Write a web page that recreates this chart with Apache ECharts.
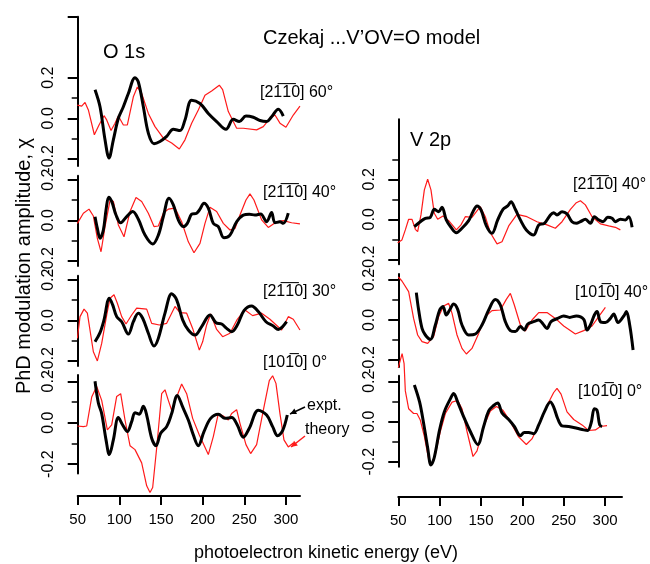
<!DOCTYPE html>
<html>
<head>
<meta charset="utf-8">
<script src="https://cdn.jsdelivr.net/npm/echarts@6/dist/echarts.min.js"></script>
<style>
html,body{margin:0;padding:0;background:#fff;}
#chart{width:650px;height:564px;}
</style>
</head>
<body>
<div id="chart"></div>
<script>
// ---------------- data (photoelectron kinetic energy eV, chi) ----------------
const xTickValues = [50, 100, 150, 200, 250, 300];
const yTickLabelValues = [-0.2, 0, 0.2];

const o1s60Expt = [[70.8,0.141],[76.8,0.057],[82.8,-0.106],[87.6,-0.195],[92.8,-0.106],[98.8,0.0],[104.8,0.057],[110.8,0.122],[118.8,0.2],[122.8,0.179],[128.8,0.057],[134.8,-0.073],[141.6,-0.125],[148.8,-0.114],[156.8,-0.089],[164.8,-0.054],[172.8,-0.06],[178.8,-0.008],[186.8,0.089],[196.8,0.073],[206.8,0.024],[216.8,-0.016],[228,-0.054],[236.8,-0.005],[244,-0.016],[252,0.011],[260.8,0.005],[268.8,-0.011],[276.8,-0.016],[282.8,0.008],[290.8,0.044],[296.8,0.011]];
const o1s60Theory = [[49.6,0.065],[54.8,0.06],[58.8,0.078],[62.8,0.041],[70,-0.081],[75.6,-0.033],[81.6,0.013],[84.8,-0.008],[90,-0.06],[94.8,-0.024],[98.8,0.011],[104.8,-0.033],[109.6,-0.033],[116.8,0.106],[121.6,0.154],[126.8,0.122],[134.8,0.024],[142.8,-0.041],[152.8,-0.098],[162.8,-0.122],[172,-0.151],[178.8,-0.106],[186.8,-0.024],[194.8,0.041],[202.8,0.114],[210.8,0.135],[220,0.163],[224,0.141],[230.8,0.033],[240.8,-0.049],[248.8,-0.049],[264.8,-0.057],[272.8,-0.041],[280.8,0.0],[286.8,0.016],[292.8,-0.024],[300,-0.044],[308.8,0.016],[316.8,0.06]];

const o1s40Expt = [[70.8,0.018],[73.6,-0.04],[76.8,-0.089],[80.8,-0.048],[84,0.051],[87.2,0.114],[90.8,0.093],[96,0.026],[101.6,-0.012],[108.8,0.018],[116,0.043],[122.8,0.005],[130.8,-0.073],[140,-0.117],[146.8,-0.073],[152.8,0.018],[159.6,0.109],[164.8,0.076],[170.8,0.002],[176.8,-0.031],[181.6,-0.015],[186.8,0.03],[192.8,0.035],[196.8,0.055],[201.6,0.084],[206.8,0.06],[212.8,-0.015],[218.8,-0.031],[225.6,-0.086],[232.8,-0.073],[240.8,-0.007],[248.8,0.026],[256,0.03],[262.8,0.026],[269.6,0.031],[276.8,-0.007],[282.8,0.038],[286.8,-0.012],[292.8,-0.007],[296.8,-0.015],[302.8,0.035]];
const o1s40Theory = [[49.6,-0.015],[56.8,0.035],[63.6,0.055],[68.8,0.021],[73.6,-0.089],[78,-0.155],[82.8,-0.031],[88.8,0.098],[92.8,0.093],[98.8,-0.023],[105.6,-0.081],[112.8,0.043],[120,0.112],[126.8,0.093],[134.8,0.035],[141.6,-0.031],[146.8,-0.028],[152.8,0.035],[158.8,0.055],[166.8,0.06],[174.8,-0.007],[182.8,-0.106],[189.6,-0.16],[196.8,-0.114],[202.8,-0.015],[208.8,0.064],[216.8,0.043],[224.8,-0.015],[232.8,-0.048],[238.8,-0.04],[244.8,0.026],[252,0.1],[256.8,0.13],[261.6,0.1],[270.8,0.002],[278.8,-0.035],[288.8,-0.007],[296.8,-0.002],[306.8,-0.012],[316.8,-0.018]];

const o1s30Expt = [[70.8,-0.106],[76.8,-0.061],[81.6,0.002],[88,0.109],[92,0.076],[96.8,0.018],[102.8,-0.007],[110.8,-0.068],[116.8,-0.007],[122.8,0.035],[128,0.01],[134.8,-0.064],[141.6,-0.127],[146.8,-0.089],[154.8,0.035],[162.8,0.131],[168.8,0.101],[176,0.002],[182.8,-0.048],[190.8,-0.073],[198.8,-0.031],[208.8,0.026],[216,-0.012],[222.8,-0.018],[228.8,-0.04],[234.8,-0.056],[241.6,-0.023],[249.6,0.048],[258.8,0.071],[266.8,0.043],[276,-0.007],[284.8,-0.028],[290.8,-0.045],[296,-0.031],[300.8,-0.007]];
const o1s30Theory = [[49.6,-0.089],[52.8,0.018],[57.6,0.055],[61.6,0.035],[68.8,-0.155],[73.6,-0.2],[78.8,-0.114],[84.8,0.026],[88.8,0.109],[93.6,0.126],[97.6,0.084],[102.8,0.018],[108,-0.018],[114.8,0.026],[120.8,0.06],[132.8,0.055],[138.8,-0.015],[148,-0.023],[156.8,-0.015],[162.8,0.035],[166.8,0.068],[172.8,0.038],[180.8,0.035],[188,-0.04],[196,-0.147],[200,-0.106],[204.8,-0.023],[209.6,0.031],[216.8,-0.045],[224,-0.081],[232.8,-0.064],[241.6,0.005],[250.8,0.051],[260,0.023],[270.8,0.035],[280.8,0.005],[294.8,-0.048],[302.8,0.018],[308.8,0.005],[316.8,-0.048]];

const o1s0Expt = [[70.8,0.2],[74.8,0.095],[78.8,0.044],[84,-0.083],[88,-0.154],[92.8,-0.083],[98.8,0.025],[104,-0.011],[109.6,-0.043],[114.8,0.005],[118.8,0.048],[124,0.041],[128.8,0.079],[132.8,0.037],[138.8,-0.075],[144,-0.111],[149.6,-0.051],[156.8,-0.019],[162.8,0.044],[169.6,0.132],[176,0.076],[182.8,0.013],[188.8,-0.059],[194.8,-0.111],[201.6,-0.043],[209.6,0.021],[218.8,0.041],[226.8,0.021],[234.8,0.025],[241.6,-0.011],[248.8,-0.07],[256,-0.027],[266.8,0.06],[276.8,0.037],[284,-0.019],[290,-0.063],[296,-0.038],[301.6,0.037]];
const o1s0Theory = [[49.6,-0.016],[56.8,-0.019],[60.8,-0.016],[66.8,0.124],[72.8,0.175],[78.8,0.108],[85.6,-0.035],[90.8,-0.011],[96.8,0.127],[101.6,0.14],[106.8,0.013],[112.8,-0.111],[118.8,-0.13],[126.8,-0.194],[132.8,-0.305],[136.8,-0.337],[140,-0.313],[144.8,-0.122],[150.8,0.14],[154.8,0.159],[158.8,0.108],[162.8,0.06],[168.8,0.124],[174.8,0.187],[180.8,0.14],[188,0.021],[196,-0.059],[206.8,-0.154],[212.8,-0.067],[218.8,0.044],[224.8,0.032],[230.8,0.013],[234.8,0.044],[240.8,0.063],[244.8,-0.003],[252,-0.106],[257.6,-0.149],[264.8,-0.106],[272.8,0.06],[280,0.203],[284,0.227],[288,0.19],[292.8,0.044],[297.6,-0.083],[302.8,-0.117],[308.8,-0.098]];

const v2p40aExpt = [[69.4,-0.037],[76.6,-0.012],[82.7,0.005],[88.7,0.01],[93.5,0.05],[98.8,0.038],[102.8,0.06],[108,-0.003],[113.7,-0.04],[120.2,-0.067],[127,-0.045],[135.1,-0.007],[140.3,0.038],[145.2,0.067],[150,0.047],[156.5,-0.033],[163.3,-0.07],[170.2,-0.003],[176.6,0.05],[182.3,0.067],[186.3,0.088],[191.5,0.05],[197.6,-0.003],[204.8,-0.053],[213.7,-0.078],[219.8,-0.028],[226.6,-0.02],[233.9,0.022],[237.9,0.033],[241.9,0.022],[248,0.038],[254,0.027],[260,-0.012],[265.3,-0.02],[270.2,-0.012],[276.2,0.0],[282.3,-0.02],[287.1,0.013],[292.3,-0.003],[297.6,-0.012],[303.2,0.01],[308.5,0.005],[312.5,-0.012],[318.5,0.0],[324.6,-0.003],[328.6,0.013],[332.7,-0.04]];
const v2p40aTheory = [[49.2,-0.117],[54.4,-0.103],[58.5,-0.053],[62.5,0.0],[66.5,0.0],[70.6,-0.05],[73.4,-0.062],[77.4,0.022],[81.5,0.147],[85.5,0.2],[89.5,0.147],[93.5,0.03],[97.6,0.0],[104,0.017],[110.9,-0.007],[120.2,-0.053],[125.8,-0.028],[131,0.013],[139.1,0.01],[144.4,0.038],[149.2,0.063],[155.2,0.013],[161.3,-0.067],[169.4,-0.123],[175.4,-0.112],[183.5,-0.033],[193.5,0.025],[205.6,0.013],[217.7,-0.012],[229.8,-0.028],[239.9,-0.045],[248,-0.012],[258.1,0.05],[265.3,0.083],[270.2,0.093],[276.2,0.072],[284.3,0.013],[294.4,-0.023],[304.4,-0.033],[312.5,-0.04],[318.5,-0.053]];

const v2p40bExpt = [[71.8,0.137],[74.6,0.05],[78.7,-0.042],[82.7,-0.075],[88.7,-0.097],[94.8,-0.025],[100,0.05],[104,0.067],[108,0.025],[112.1,0.05],[116.9,0.08],[121.8,0.053],[127,-0.025],[135.1,-0.075],[143.2,-0.07],[151.2,-0.025],[159.3,0.05],[167.3,0.103],[173.4,0.075],[179.4,-0.008],[185.5,-0.053],[191.5,-0.058],[197.6,-0.033],[202.4,-0.05],[206.5,-0.02],[213.7,-0.008],[219.8,0.0],[225,-0.02],[229.8,-0.042],[234.7,-0.008],[242.7,0.008],[250,0.02],[257.3,0.013],[265.3,0.02],[274.2,0.003],[278.2,-0.05],[282.3,-0.025],[287.1,0.025],[290.3,0.042],[294.4,-0.008],[300.4,-0.013],[306.5,0.008],[310.5,0.03],[315.7,-0.013],[322.6,0.02],[325.8,0.042],[329.8,-0.025],[333.9,-0.15]];
const v2p40bTheory = [[50,0.215],[54.4,0.195],[62.5,0.142],[68.5,0.008],[73.4,-0.075],[78.7,-0.108],[85.5,-0.117],[92.7,-0.083],[98.8,0.017],[104.8,0.07],[110.9,0.083],[115,0.033],[121,-0.075],[127,-0.142],[132.3,-0.17],[139.1,-0.142],[147.2,-0.067],[155.2,0.017],[163.3,0.047],[173.4,0.05],[180.6,0.103],[185.5,0.133],[190.3,0.075],[197.6,-0.025],[203.6,-0.055],[211.7,0.0],[219.8,0.037],[229.8,0.037],[239.9,0.008],[250,-0.03],[264.1,-0.07],[274.2,-0.053],[284.3,-0.03],[292.3,0.017],[300.4,0.063]];

const v2p0Expt = [[69.4,0.184],[75.8,0.098],[80.6,-0.008],[85.5,-0.13],[89.5,-0.216],[93.5,-0.179],[99.9,-0.041],[105.6,0.049],[112.9,0.114],[116.9,0.141],[121.8,0.098],[128.2,0.033],[137.1,-0.049],[146,-0.114],[153.2,-0.024],[159.3,0.054],[165.3,0.081],[170.2,0.093],[175.4,0.044],[183.5,0.011],[190.3,-0.024],[197.6,-0.07],[202.4,-0.054],[207.7,-0.054],[213.7,-0.06],[219.8,-0.016],[226.6,0.049],[233.9,0.098],[237.9,0.073],[242.7,0.016],[248,-0.021],[256,-0.024],[266.1,-0.033],[274.2,-0.041],[279,-0.044],[283.1,-0.008],[287.1,0.065],[290.3,0.057],[293.5,-0.016],[296.4,-0.024]];
const v2p0Theory = [[50,0.27],[54.6,0.34],[57,0.29],[58.5,0.154],[62.5,0.065],[68.5,0.041],[72.5,0.041],[76.6,0.008],[81.5,-0.073],[86.7,-0.187],[89.9,-0.216],[94.8,-0.163],[100.8,-0.049],[106.9,0.041],[115,0.098],[121.8,0.106],[127,0.065],[133.1,-0.049],[140.3,-0.174],[145.2,-0.146],[153.2,-0.024],[161.3,0.054],[168.5,0.076],[176.6,0.057],[185.5,0.0],[195.5,-0.076],[204.8,-0.114],[211.6,-0.086],[221.8,0.0],[229.8,0.081],[237.9,0.146],[241.9,0.167],[246.8,0.138],[254,0.049],[262.1,0.011],[272.2,-0.016],[280.2,-0.044],[288.3,-0.041],[294.4,-0.024],[302.4,-0.02]];

const panelLabels = ['[21\u03051\u03050] 60°','[21\u03051\u03050] 40°','[21\u03051\u03050] 30°','[101\u03050] 0°','[21\u03051\u03050] 40°','[101\u03050] 40°','[101\u03050] 0°'];
const panelExpt = [o1s60Expt, o1s40Expt, o1s30Expt, o1s0Expt, v2p40aExpt, v2p40bExpt, v2p0Expt];
const panelTheory = [o1s60Theory, o1s40Theory, o1s30Theory, o1s0Theory, v2p40aTheory, v2p40bTheory, v2p0Theory];

// ---------------- layout ----------------
const FONT = '"Liberation Sans", Arial, sans-serif';
const L = {x0: 77.7, pxPerEv: 0.833, xMin: 50, xMax: 320};
const R = {x0: 398.3, pxPerEv: 0.827, xMin: 50, xMax: 340};
const panels = [
  {side: L, yMin: -0.235, yMax: 0.5,  zero: 118.3, k: 203, majors: [-0.2,0,0.2,0.5], minors: [-0.1,0.1], lab: [260, 93]},
  {side: L, yMin: -0.225, yMax: 0.22, zero: 220.3, k: 203, majors: [-0.2,0,0.2], minors: [-0.1,0.1], lab: [263, 193]},
  {side: L, yMin: -0.225, yMax: 0.22, zero: 320.3, k: 203, majors: [-0.2,0,0.2], minors: [-0.1,0.1], lab: [263, 292]},
  {side: L, yMin: -0.245, yMax: 0.23, zero: 422.7, k: 207, majors: [-0.2,0,0.2], minors: [-0.1,0.1], lab: [263, 363]},
  {side: R, yMin: -0.225, yMax: 0.5,  zero: 219.3, k: 200, majors: [-0.2,0,0.2], minors: [-0.1,0.1,0.3], lab: [573, 185]},
  {side: R, yMin: -0.235, yMax: 0.23, zero: 320.0, k: 200, majors: [-0.2,0,0.2], minors: [-0.1,0.1], lab: [575, 293]},
  {side: R, yMin: -0.225, yMax: 0.23, zero: 421.7, k: 200, majors: [-0.2,0,0.2], minors: [-0.1,0.1], lab: [578, 392]}
];

const grid = [], xAxis = [], yAxis = [], series = [], graphic = [];

panels.forEach((p, i) => {
  grid.push({
    left: p.side.x0,
    top: p.zero - p.yMax * p.k,
    width: (p.side.xMax - p.side.xMin) * p.side.pxPerEv,
    height: (p.yMax - p.yMin) * p.k
  });
  xAxis.push({gridIndex: i, type: 'value', min: p.side.xMin, max: p.side.xMax, show: false});
  yAxis.push({
    gridIndex: i, type: 'value', min: p.yMin, max: p.yMax, position: 'left',
    axisLine: {show: true, onZero: false, lineStyle: {color: '#000', width: 2}},
    axisTick: {show: true, length: 10, customValues: p.majors, lineStyle: {color: '#000', width: 2}},
    axisLabel: {show: true, customValues: yTickLabelValues, rotate: 90, margin: 21,
      color: '#000', fontSize: 16, fontFamily: FONT,
      formatter: v => (Math.abs(v) < 1e-9 ? '0.0' : v.toFixed(1))},
    splitLine: {show: false}
  });
  yAxis.push({
    gridIndex: i, type: 'value', min: p.yMin, max: p.yMax, position: 'left',
    axisLine: {show: false},
    axisTick: {show: true, length: 6, customValues: p.minors, lineStyle: {color: '#000', width: 1.5}},
    axisLabel: {show: false}, splitLine: {show: false}
  });
  series.push({
    type: 'line', xAxisIndex: i, yAxisIndex: 2 * i, data: panelTheory[i],
    showSymbol: false, clip: false, smooth: false,
    lineStyle: {color: '#ff1a1a', width: 1.2}, z: 2
  });
  series.push({
    type: 'line', xAxisIndex: i, yAxisIndex: 2 * i, data: panelExpt[i],
    showSymbol: false, clip: false, smooth: 0.35,
    lineStyle: {color: '#000', width: 3}, z: 3
  });
  graphic.push({type: 'text', x: p.lab[0], y: p.lab[1],
    style: {text: panelLabels[i], fill: '#000', font: '16px ' + FONT, textVerticalAlign: 'middle', textAlign: 'left'}});
});

// bottom axes (own grids)
[{side: L, y: 496, xMax: 316.9}, {side: R, y: 497, xMax: 320.5}].forEach((b, j) => {
  const gi = panels.length + j;
  grid.push({left: b.side.x0, top: b.y - 1, width: (b.xMax - 50) * b.side.pxPerEv, height: 1});
  xAxis.push({
    gridIndex: gi, type: 'value', min: 50, max: b.xMax, position: 'bottom',
    axisLine: {show: true, onZero: false, lineStyle: {color: '#000', width: 2}},
    axisTick: {show: true, length: 9, customValues: xTickValues, lineStyle: {color: '#000', width: 2}},
    axisLabel: {show: true, customValues: xTickValues, margin: 16, color: '#000', fontSize: 15, fontFamily: FONT},
    splitLine: {show: false}
  });
  yAxis.push({gridIndex: gi, type: 'value', min: 0, max: 1, show: false});
});

// texts
const txt = (t, x, y, size) => ({type: 'text', x, y,
  style: {text: t, fill: '#000', font: size + 'px ' + FONT, textVerticalAlign: 'middle', textAlign: 'left'}});
graphic.push(txt('Czekaj ...V\u2019OV=O model', 263, 38, 20));
graphic.push(txt('O 1s', 103, 52, 20));
graphic.push(txt('V 2p', 410, 140, 20));
graphic.push(txt('expt.', 307, 406, 16));
graphic.push(txt('theory', 305, 430, 16));
graphic.push({type: 'text', x: 24, y: 266, rotation: Math.PI / 2,
  style: {text: 'PhD modulation amplitude, \u03c7', fill: '#000', font: '20px ' + FONT, textAlign: 'center', textVerticalAlign: 'middle'}});
graphic.push({type: 'text', x: 326, y: 553,
  style: {text: 'photoelectron kinetic energy (eV)', fill: '#000', font: '18px ' + FONT, textAlign: 'center', textVerticalAlign: 'middle'}});

function arrow(x1, y1, x2, y2, color, w) {
  const a = Math.atan2(y2 - y1, x2 - x1), h = 7, s = 0.45;
  graphic.push({type: 'line', shape: {x1, y1, x2, y2}, style: {stroke: color, lineWidth: w}});
  graphic.push({type: 'polygon', shape: {points: [[x2, y2],
    [x2 - h * Math.cos(a - s), y2 - h * Math.sin(a - s)],
    [x2 - h * Math.cos(a + s), y2 - h * Math.sin(a + s)]]}, style: {fill: color}});
}
arrow(305, 407, 290, 414, '#000', 1.5);
arrow(305, 436, 291, 447, '#ff1a1a', 1.5);

const chart = echarts.init(document.getElementById('chart'), null, {renderer: 'canvas'});
chart.setOption({animation: false, backgroundColor: '#fff', grid, xAxis, yAxis, series, graphic});
</script>
</body>
</html>
